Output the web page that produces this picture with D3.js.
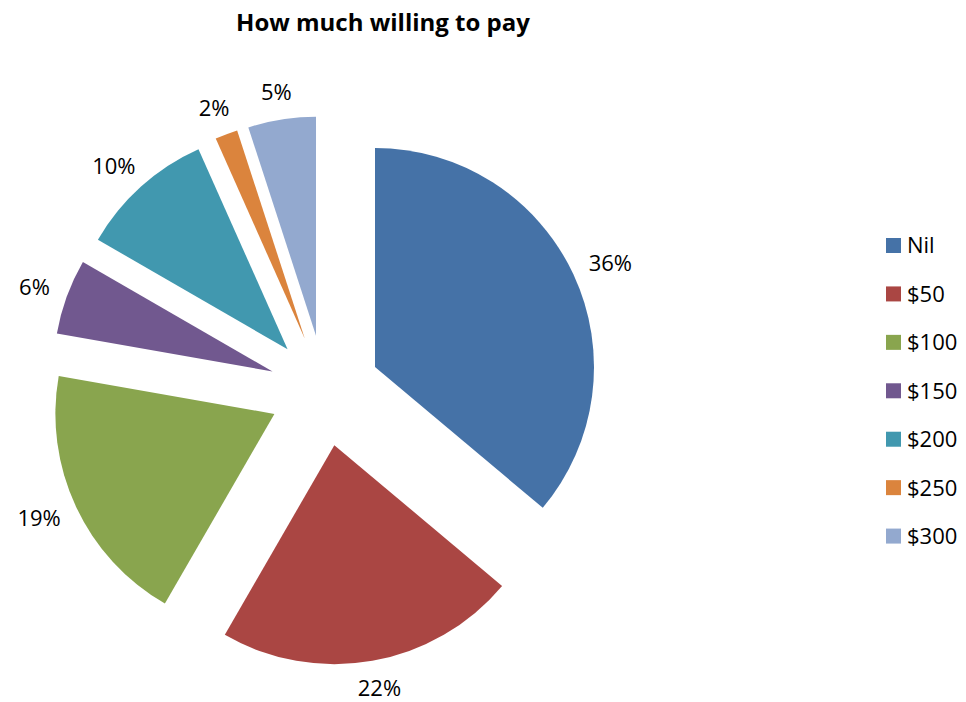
<!DOCTYPE html>
<html>
<head>
<meta charset="utf-8">
<script src="https://cdn.jsdelivr.net/npm/d3@7"></script>
<style>
  html, body { margin: 0; padding: 0; background: #fff; }
  svg { display: block; }
  text { font-family: "Open Sans", "Liberation Sans", sans-serif; fill: #000; }
</style>
</head>
<body>
<svg id="chart" width="966" height="702"></svg>
<script>
// Survey answers: how much people are willing to pay (number of respondents)
const categories = ["Nil", "$50", "$100", "$150", "$200", "$250", "$300"];
const responses = [65, 40, 35, 10, 18, 3, 9];
const colors = ["#4572A7", "#AA4643", "#89A54E", "#71588F", "#4198AF", "#DB843D", "#93A9CF"];
const title = "How much willing to pay";

const svg = d3.select("#chart");
const total = d3.sum(responses);
const pct = v => Math.round(100 * v / total) + "%";

// Pie geometry
const cx = 324.7, cy = 390.5;
const radius = 219;
const explode = 55.5;   // distance each slice is pulled out from the centre
const labelGap = 19;
const fontSize = 22;
const capHalf = 0.357 * fontSize;   // shift from visual centre to baseline

svg.append("text")
  .attr("x", 383)
  .attr("y", 31)
  .attr("text-anchor", "middle")
  .style("font-weight", "bold")
  .style("font-size", "24px")
  .text(title);

const pie = d3.pie().sort(null).value(d => d.value);
const arcs = pie(categories.map((c, i) => ({ name: c, value: responses[i], color: colors[i] })));
const arc = d3.arc().innerRadius(0).outerRadius(radius);

const g = svg.append("g").attr("transform", `translate(${cx},${cy})`);

const slice = g.selectAll("g.slice")
  .data(arcs)
  .enter().append("g")
  .attr("class", "slice")
  .attr("transform", d => {
    const a = (d.startAngle + d.endAngle) / 2;
    return `translate(${explode * Math.sin(a)},${-explode * Math.cos(a)})`;
  });

slice.append("path")
  .attr("d", arc)
  .attr("fill", d => d.data.color);

// Percentage labels just outside the rim of each slice
slice.append("text")
  .style("font-size", fontSize + "px")
  .attr("text-anchor", "middle")
  .text(d => pct(d.data.value))
  .each(function (d) {
    const a = (d.startAngle + d.endAngle) / 2;
    const sx = Math.sin(a), sy = -Math.cos(a);
    const w = this.getComputedTextLength();
    const r = radius + labelGap;
    d3.select(this)
      .attr("x", sx * r + sx * w / 2)
      .attr("y", sy * r + sy * 9 + capHalf);
  });

// Legend
const legend = svg.append("g").attr("transform", "translate(886,245.5)");
const item = legend.selectAll("g")
  .data(categories)
  .enter().append("g")
  .attr("transform", (d, i) => `translate(0,${i * 48.43})`);
item.append("rect")
  .attr("x", 0).attr("y", -7.5)
  .attr("width", 15).attr("height", 15)
  .attr("fill", (d, i) => colors[i]);
item.append("text")
  .attr("x", 21).attr("y", capHalf)
  .style("font-size", fontSize + "px")
  .text(d => d);
</script>
</body>
</html>
